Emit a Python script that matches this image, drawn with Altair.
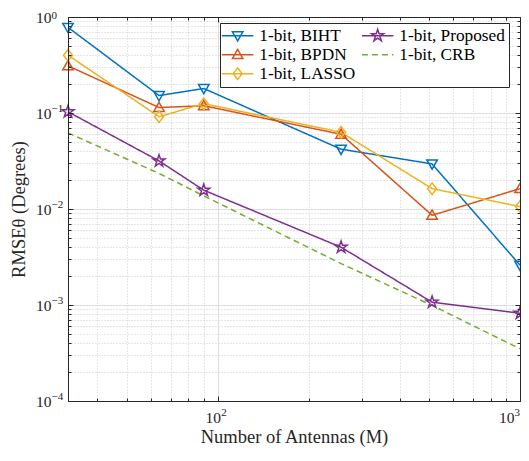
import math
import altair as alt
import pandas as pd

# ---------------- data ----------------
antennas = [32, 64, 90, 256, 512, 1000]
biht = [0.78, 0.152, 0.18, 0.042, 0.0295, 0.0026]
bpdn = [0.31, 0.114, 0.119, 0.060, 0.0086, 0.0163]
lasso = [0.40, 0.0915, 0.125, 0.063, 0.0163, 0.0106]
proposed = [0.103, 0.0317, 0.0157, 0.0040, 0.00107, 0.00082]
crb = [0.062, 0.0235, 0.0137, 0.0027, 0.00099, 0.00035]

series_names = ["1-bit, BIHT", "1-bit, BPDN", "1-bit, LASSO", "1-bit, Proposed", "1-bit, CRB"]
series_values = [biht, bpdn, lasso, proposed, crb]
colors = ["#0072BD", "#D95319", "#EDB120", "#7E2F8E", "#77AC30"]
dashes = [[1, 0], [1, 0], [1, 0], [1, 0], [6, 4]]

# tick labels: base "10" and exponent drawn as a raised, smaller label
x_major = [100, 1000]
x_major_exp = ["2", "3"]
y_major = [1e-4, 1e-3, 1e-2, 1e-1, 1]
y_major_exp = ["−4", "−3", "−2", "−1", "0"]
minor_mult = [1, 2, 3, 4, 5, 6, 7, 8, 9]

rows = []
for name, vals in zip(series_names, series_values):
    for m, v in zip(antennas, vals):
        rows.append({"M": m, "rmse": v, "series": name})
df = pd.DataFrame(rows)

# ---------------- marker shapes ----------------
def star(R=1.2, r=0.46):
    pts = []
    for k in range(10):
        a = math.radians(-90 + 36 * k)
        rad = R if k % 2 == 0 else r
        pts.append(f"{rad*math.cos(a):.3f},{rad*math.sin(a):.3f}")
    return "M" + "L".join(pts) + "Z"

tri_down = "M-1,-0.75L1,-0.75L0,1Z"
tri_up = "M-1,0.75L1,0.75L0,-1Z"
diamond = "M0,-1.1L0.85,0L0,1.1L-0.85,0Z"
pent = star()
marker_series = ["1-bit, BIHT", "1-bit, BPDN", "1-bit, LASSO", "1-bit, Proposed"]
marker_paths = [tri_down, tri_up, diamond, pent]
seg = "M-3,0L3,0"
marker_of = dict(zip(marker_series, marker_paths))
legend_paths = [seg + marker_of.get(s, "") for s in series_names]

# ---------------- axes helpers ----------------
W, H = 452, 384
FONT = "Liberation Serif"
INK = "#262626"
MAJOR = "abs(log(datum.value)/LN10 - round(log(datum.value)/LN10)) < 0.001"
LAST_X = "datum.value >= 999"
TOP_Y = "datum.value >= 0.999"

x_ticks = [m * d for d in [10, 100] for m in minor_mult if 32 <= m * d <= 1000] + [1000]
y_ticks = [m * 10.0 ** e for e in range(-4, 0) for m in minor_mult] + [1]

def label_expr(vals, labels):
    expr = "''"
    for v, lab in zip(vals, labels):
        expr = f"abs(log(datum.value)/LN10 - ({math.log10(v)})) < 0.001 ? '{lab}' : " + expr
    return expr

base_expr = f"({MAJOR}) ? '10' : ''"

grid_color = {"condition": {"test": MAJOR, "value": "#dedede"}, "value": "#cccccc"}
grid_dash = {"condition": {"test": MAJOR, "value": []}, "value": [1, 2]}
tick_size = {"condition": {"test": MAJOR, "value": 5}, "value": 3}

common_main = dict(
    grid=True, gridColor=grid_color, gridDash=grid_dash, gridWidth=1,
    ticks=False, tickSize=0, domain=False,
    labelFont=FONT, labelFontSize=15.5, labelColor=INK, labelOverlap=False,
    labelFlush=False, labelBound=False,
    titleFont=FONT, titleFontSize=18.5, titleFontWeight="normal", titleColor=INK,
)
main_x = alt.Axis(orient="bottom", values=x_ticks, labelExpr=base_expr,
                  labelAlign={"condition": {"test": LAST_X, "value": "right"}, "value": "center"},
                  labelOffset={"condition": {"test": LAST_X, "value": -6}, "value": -5},
                  labelPadding=9, minExtent=24, maxExtent=24, titlePadding=2,
                  title="Number of Antennas (M)", **common_main)
main_y = alt.Axis(orient="left", values=y_ticks, labelExpr=base_expr, labelAlign="right",
                  labelBaseline="middle",
                  labelPadding=17, minExtent=34, maxExtent=34, titlePadding=6,
                  title="RMSEθ (Degrees)", **common_main)

sup_common = dict(labels=True, grid=False, domain=False, ticks=False, tickSize=0, title=None,
                  labelFont=FONT, labelFontSize=11, labelColor=INK, labelOverlap=False,
                  labelFlush=False, labelBound=False, labelAlign="left")
sup_x = alt.Axis(orient="bottom", values=x_ticks, labelExpr=label_expr(x_major, x_major_exp),
                 labelOffset={"condition": {"test": LAST_X, "value": -6}, "value": 3},
                 labelPadding=5, **sup_common)
sup_y = alt.Axis(orient="left", values=y_ticks, labelExpr=label_expr(y_major, y_major_exp),
                 labelOffset={"condition": {"test": TOP_Y, "value": -2}, "value": -4.5},
                 labelPadding=17, labelBaseline="middle", **sup_common)

def tick_axis(orient, values, offset):
    return alt.Axis(orient=orient, values=values, offset=offset, labels=False, grid=False,
                    domain=True, domainColor=INK, domainWidth=1, ticks=True, tickSize=tick_size,
                    tickColor=INK, tickWidth=1, title=None, zindex=1)

xscale = alt.Scale(type="log", domain=[32, 1000])
yscale = alt.Scale(type="log", domain=[1e-4, 1.0002])

def legend_def():
    return alt.Legend(
        title=None, orient="none", legendX=152, legendY=6, columns=2, direction="vertical",
        symbolSize=110, symbolStrokeWidth=1.5, symbolOffset=5, labelOffset=13,
        symbolFillColor="transparent",
        labelFont=FONT, labelFontSize=17.3, labelColor="#000000", labelLimit=0,
        rowPadding=1, columnPadding=2, padding=4,
        strokeColor=INK, fillColor="white", cornerRadius=0,
    )

base = alt.Chart(df)

lines = base.mark_line(strokeWidth=1.5).encode(
    x=alt.X("M:Q", scale=xscale, axis=main_x),
    y=alt.Y("rmse:Q", scale=yscale, axis=main_y),
    color=alt.Color("series:N", scale=alt.Scale(domain=series_names, range=colors), legend=None),
    strokeDash=alt.StrokeDash("series:N", scale=alt.Scale(domain=series_names, range=dashes), legend=None),
)

points = base.transform_filter("datum.series !== '1-bit, CRB'").mark_point(
    filled=False, size=110, strokeWidth=1.5, opacity=1
).encode(
    x=alt.X("M:Q", scale=xscale, axis=tick_axis("top", x_ticks, -H)),
    y=alt.Y("rmse:Q", scale=yscale, axis=tick_axis("right", y_ticks, -W)),
    color=alt.Color("series:N", scale=alt.Scale(domain=series_names, range=colors), legend=None),
    shape=alt.Shape("series:N", scale=alt.Scale(domain=marker_series, range=marker_paths), legend=None),
)

# empty layer: carries the legend (line + marker symbols) and the top/right frame ticks
legend_layer = base.transform_filter("false").mark_point(
    filled=False, size=110, strokeWidth=1.5, opacity=1
).encode(
    x=alt.X("M:Q", scale=xscale, axis=tick_axis("bottom", x_ticks, -H)),
    y=alt.Y("rmse:Q", scale=yscale, axis=tick_axis("left", y_ticks, -W)),
    color=alt.Color("series:N", scale=alt.Scale(domain=series_names, range=colors), legend=legend_def()),
    shape=alt.Shape("series:N", scale=alt.Scale(domain=series_names, range=legend_paths), legend=legend_def()),
    strokeDash=alt.StrokeDash("series:N", scale=alt.Scale(domain=series_names, range=dashes), legend=legend_def()),
)

# empty layer: carries the exponent labels of the decade ticks
sup_layer = base.transform_filter("false").mark_point(opacity=0).encode(
    x=alt.X("M:Q", scale=xscale, axis=sup_x),
    y=alt.Y("rmse:Q", scale=yscale, axis=sup_y),
)

chart = alt.layer(lines, points, legend_layer, sup_layer).resolve_axis(
    x="independent", y="independent"
).resolve_scale(
    color="independent", shape="independent", strokeDash="independent"
).properties(
    width=W, height=H,
    autosize=alt.AutoSizeParams(type="none"),
    padding={"left": 60, "top": 9, "right": 1, "bottom": 46},
    background="white",
).configure_view(stroke=None)

chart.save("out.html", embed_options={"renderer": "svg", "actions": False})
